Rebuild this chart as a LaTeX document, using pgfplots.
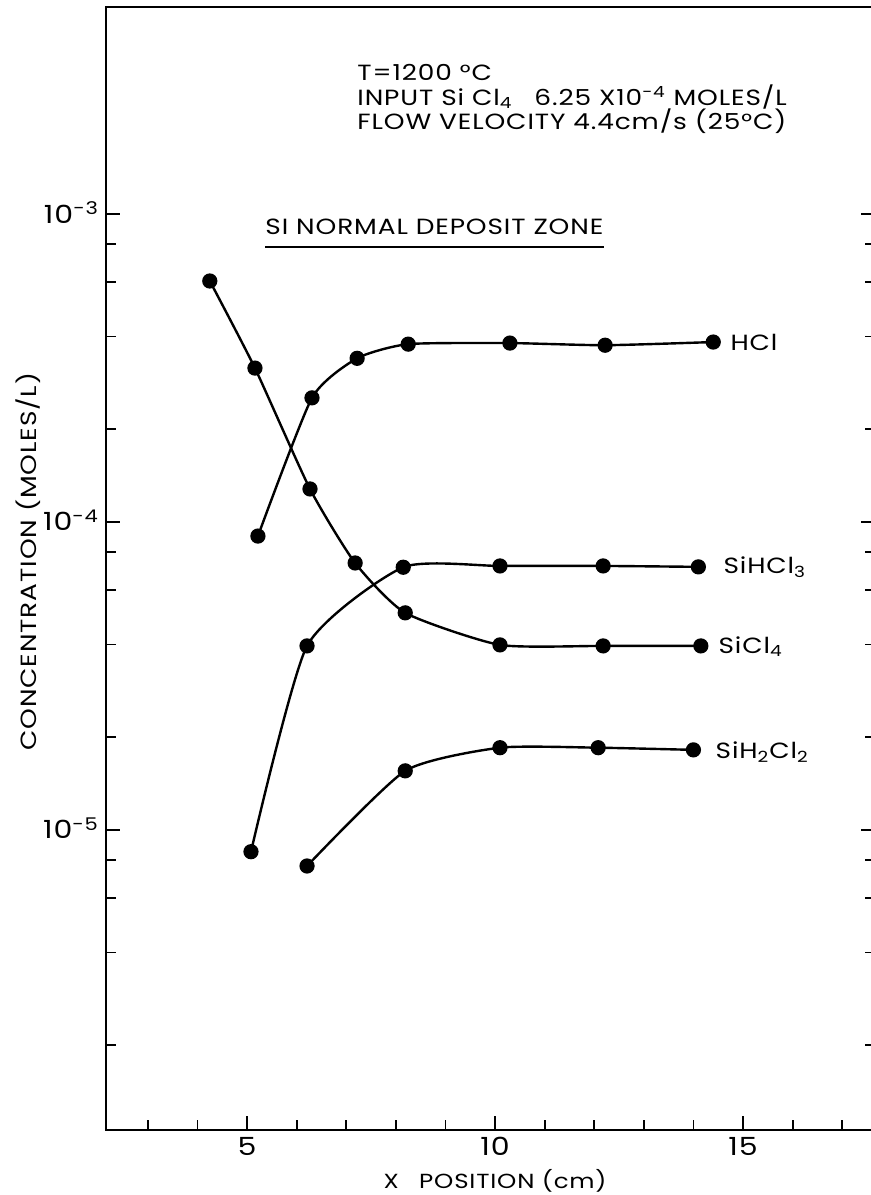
\documentclass[border=0pt]{standalone}
\usepackage{fontspec}
\setmainfont{Poppins}[FakeStretch=1.2, LetterSpace=4]
\usepackage{pgfplots}
\usepackage{pgfplotstable}
\pgfplotsset{compat=1.18}

% concentration (moles/L) against x position (cm)
\pgfplotstableread{
x y
4.25 6.06e-4
5.16 3.16e-4
6.27 1.28e-4
7.18 7.36e-5
8.19 5.07e-5
10.1 3.99e-5
12.18 3.96e-5
14.15 3.96e-5
}\sicl
\pgfplotstableread{
x y
5.22 9.0e-5
6.31 2.53e-4
7.22 3.40e-4
8.25 3.78e-4
10.3 3.81e-4
12.22 3.75e-4
14.4 3.84e-4
}\hcl
\pgfplotstableread{
x y
5.08 8.5e-6
6.21 3.96e-5
8.15 7.13e-5
10.1 7.2e-5
12.18 7.2e-5
14.1 7.15e-5
}\sihcl
\pgfplotstableread{
x y
6.21 7.64e-6
8.19 1.556e-5
10.1 1.85e-5
12.08 1.85e-5
14.0 1.82e-5
}\sihhcl

\newcommand\lab{\fontsize{11}{12}\selectfont}
\newcommand\axlab{\fontsize{10.2}{12}\selectfont}
\newcommand\ylab{\fontsize{11}{12}\selectfont}
\tikzset{txt/.style={anchor=base west, inner sep=0pt, font=\lab}}

\begin{document}
\begin{tikzpicture}
\begin{axis}[
  scale only axis, width=384.5pt, height=561.5pt,
  ymode=log,
  xmin=2.157, xmax=17.661, ymin=1.061e-6, ymax=4.70e-3,
  xtick={5,10,15},
  minor xtick={3,4,6,7,8,9,11,12,13,14,16,17},
  ytick={1e-5,1e-4,1e-3},
  yticklabels={10\textsuperscript{-5},10\textsuperscript{-4},10\textsuperscript{-3}},
  minor ytick={2e-6,4e-6,6e-6,8e-6,2e-5,4e-5,6e-5,8e-5,2e-4,4e-4,6e-4,8e-4},
  xtick pos=bottom, ytick pos=both, tick align=inside,
  major tick length=7pt, minor tick length=5pt,
  every tick/.append style={black, line width=0.9pt},
  axis line style={line width=1.3pt},
  tick label style={font=\fontsize{12.5}{12.5}\selectfont},
  /pgf/number format/assume math mode=true,
  yticklabel style={anchor=base east, yshift=-4.5pt},
  xlabel={X\quad POSITION (cm)},
  ylabel={CONCENTRATION (MOLES/L)},
  xlabel style={at={(rel axis cs:0.506,-0.0454)}, anchor=center, font=\axlab},
  ylabel style={at={(rel axis cs:-0.1014,0.506)}, anchor=center, font=\ylab},
  clip=false,
  curve/.style={black, line width=1.2pt, smooth, tension=0.35,
    mark=*, mark size=3.2pt, mark options={solid}},
]
\addplot[curve] table {\sicl};
\addplot[curve] table {\hcl};
\addplot[curve] table {\sihcl};
\addplot[curve] table {\sihhcl};

\node[txt] at (rel axis cs:0.3264,0.935) {T=1200 °C};
\node[txt] at (rel axis cs:0.3264,0.9127)
  {INPUT Si Cl\textsubscript{4}\quad 6.25 X10\textsuperscript{-4} MOLES/L};
\node[txt] at (rel axis cs:0.3264,0.8905)
  {FLOW VELOCITY 4.4cm/s (25°C)};
\node[txt] (zone) at (rel axis cs:0.2068,0.797)
  {SI NORMAL DEPOSIT ZONE};
\draw[line width=1pt] ([yshift=-6pt]zone.base west) -- ([yshift=-6pt]zone.base east);

\node[txt, yshift=-3.75pt] at (axis cs:14.74,3.81e-4) {HCl};
\node[txt, yshift=-3.75pt] at (axis cs:14.6,7.2e-5) {SiHCl\textsubscript{3}};
\node[txt, yshift=-3.75pt] at (axis cs:14.5,3.96e-5) {SiCl\textsubscript{4}};
\node[txt, yshift=-3.75pt] at (axis cs:14.44,1.8e-5) {SiH\textsubscript{2}Cl\textsubscript{2}};

\coordinate (bl) at (rel axis cs:0,0);
\coordinate (tr) at (rel axis cs:1,1);
\end{axis}
\pgfresetboundingbox
\path[use as bounding box] ([xshift=-53pt,yshift=-32.5pt]bl) rectangle ([xshift=-2pt,yshift=3.5pt]tr);
\end{tikzpicture}
\end{document}
